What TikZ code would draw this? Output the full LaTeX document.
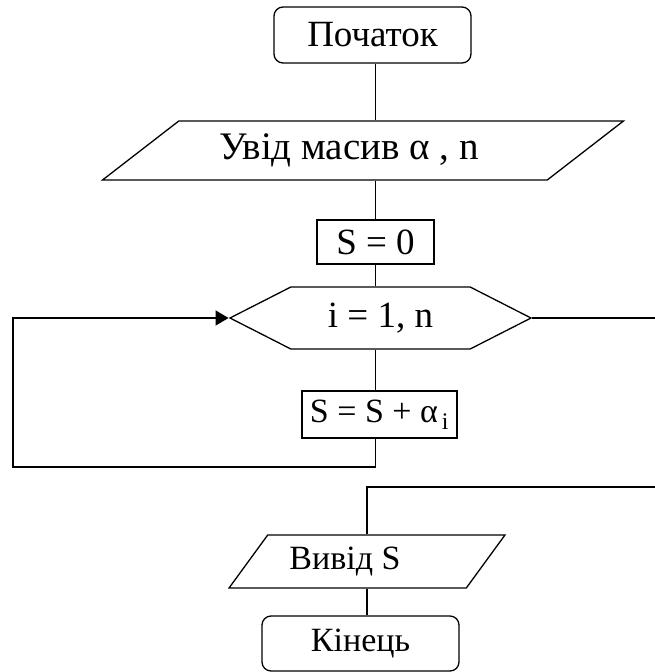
\documentclass[tikz,border=0pt]{standalone}
\usepackage{fontspec}
\setmainfont{Liberation Serif}
\usetikzlibrary{shapes.geometric,shapes.symbols,arrows.meta}
\tikzset{
  term/.style={draw, rectangle, rounded corners=9pt, minimum width=197pt, inner sep=0pt},
  io/.style={draw, trapezium, trapezium stretches=true, inner sep=0pt},
  proc/.style={draw, rectangle, inner sep=0pt},
  cycle/.style={draw, signal, signal to=west and east, signal pointer angle=54, inner sep=0pt},
  big/.style={font=\fontsize{37}{40}\selectfont},
  small/.style={font=\fontsize{34}{37}\selectfont},
}

\begin{document}
\begin{tikzpicture}[x=1pt,y=-1pt,line width=1.3pt]
    \useasboundingbox (0,0) rectangle (655,672);

    %Start, input
    \node[term,big,minimum height=56pt] (start) at (372.5,35) {Початок};
    \node[io,font=\fontsize{39}{42}\selectfont,trapezium left angle=29.3,trapezium right angle=150.7,minimum width=522pt,minimum height=59pt] (in) at (363,150.5) {Увід масив α , n\hspace*{28pt}};
    \node[proc,big,minimum width=117pt,minimum height=44pt] (s0) at (375.5,242) {S = 0};
    %Loop
    \node[cycle,big,minimum width=301pt,minimum height=62pt] (loop) at (380.5,318) {i = 1, n};
    \node[proc,small,minimum width=155pt,minimum height=47pt] (body) at (379.5,414.5) {S = S + α\textsubscript{\,i}};
    %Output, end
    \node[io,small,trapezium left angle=43.9,trapezium right angle=136.1,minimum width=276pt,minimum height=53pt] (out) at (367,561.5) {Вивід S\hspace*{44pt}};
    \node[term,small,minimum height=55pt] (stop) at (360.5,643.5) {Кінець};

    \coordinate (ret) at (13,467);
    \coordinate (exit) at (662,487);

    \draw (start.south -| s0) -- (in.north -| s0);
    \draw (in.south -| s0) -- (s0.north);
    \draw (s0.south) -- (loop.north -| s0);
    \draw (loop.south -| s0) -- (body.north -| s0);
    \draw[-{Triangle[length=13pt,width=15pt]}] (body.south -| s0) |- (ret) |- (loop.west);
    \draw (loop.east) -| (exit) -| (out.north);
    \draw (out.south) -- (out.south |- stop.north);
\end{tikzpicture}
\end{document}
